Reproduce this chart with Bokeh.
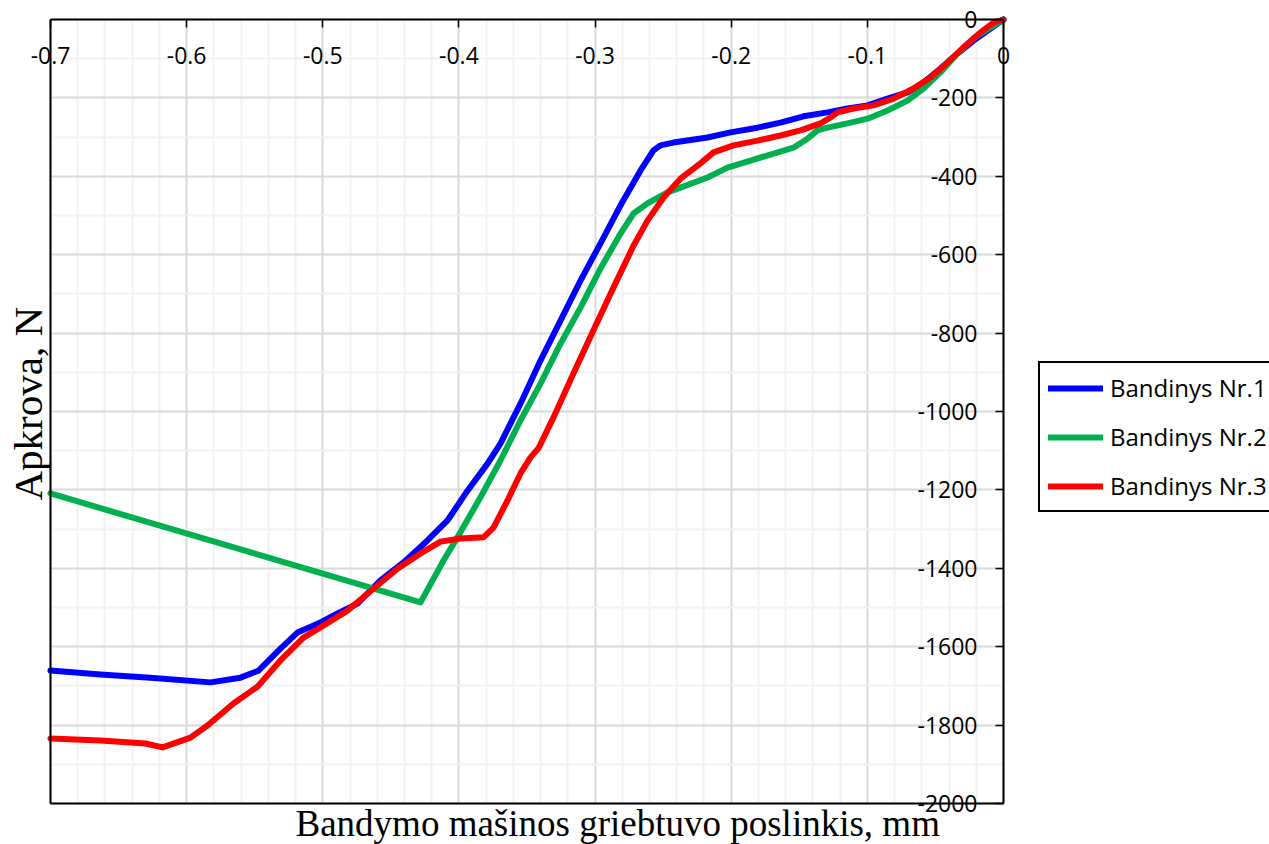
from bokeh.plotting import figure
from bokeh.models import (Range1d, LinearAxis, FixedTicker, Grid, Legend,
                          LegendItem, Label)
from bokeh.embed import file_html
from bokeh.resources import INLINE
import math

# ---- data ----
x_nr1 = [-0.700, -0.6633, -0.6266, -0.5825, -0.5605, -0.5472, -0.5311, -0.5186,
         -0.5017, -0.4892, -0.4745, -0.4576, -0.4407, -0.4231, -0.4084, -0.3937,
         -0.3790, -0.3695, -0.3548, -0.3401, -0.3254, -0.3107, -0.2960, -0.2813,
         -0.2666, -0.2571, -0.2520, -0.2424, -0.2174, -0.2005, -0.1807, -0.1638,
         -0.1469, -0.1293, -0.1146, -0.0999, -0.0852, -0.0705, -0.0588, -0.0463,
         -0.0338, -0.0220, -0.0095, 0.0]
y_nr1 = [-1661, -1671, -1679, -1691, -1679, -1661, -1605, -1564,
         -1538, -1515, -1490, -1431, -1385, -1329, -1278, -1202,
         -1133, -1082, -980, -870, -768, -666, -571, -474,
         -385, -334, -321, -314, -301, -288, -276, -263,
         -247, -237, -227, -219, -202, -186, -161, -125,
         -87, -54, -23, 0]

x_nr2 = [-0.700, -0.4282, -0.4113, -0.4011, -0.3842, -0.3695, -0.3548, -0.3401,
         -0.3254, -0.3107, -0.2960, -0.2813, -0.2718, -0.2615, -0.2468, -0.2373,
         -0.2174, -0.2027, -0.1858, -0.1689, -0.1543, -0.1440, -0.1366, -0.1293,
         -0.1146, -0.0999, -0.0852, -0.0705, -0.0588, -0.0463, -0.0338, -0.0220,
         -0.0095, 0.0]
y_nr2 = [-1209, -1487, -1380, -1321, -1219, -1125, -1023, -929,
         -827, -735, -635, -546, -495, -469, -441, -429,
         -403, -378, -360, -342, -327, -304, -283, -276,
         -265, -253, -232, -207, -176, -135, -87, -48,
         -20, 0]

x_nr3 = [-0.700, -0.6633, -0.6302, -0.6177, -0.5972, -0.5847, -0.5656, -0.5480,
         -0.5311, -0.5142, -0.5017, -0.4819, -0.4628, -0.4451, -0.4282, -0.4135,
         -0.3988, -0.3820, -0.3746, -0.3643, -0.3548, -0.3474, -0.3416, -0.3305,
         -0.3159, -0.3012, -0.2865, -0.2718, -0.2615, -0.2497, -0.2373, -0.2226,
         -0.2130, -0.1983, -0.1807, -0.1638, -0.1491, -0.1344, -0.1271, -0.1219,
         -0.1102, -0.0955, -0.0808, -0.0661, -0.0536, -0.0411, -0.0294, -0.0169,
         -0.0073, 0.0]
y_nr3 = [-1834, -1839, -1847, -1857, -1832, -1801, -1745, -1702,
         -1635, -1577, -1551, -1508, -1452, -1401, -1362, -1332,
         -1324, -1321, -1296, -1227, -1158, -1117, -1094, -1015,
         -903, -793, -684, -577, -513, -454, -406, -367,
         -339, -321, -309, -296, -283, -265, -250, -237,
         -227, -219, -202, -176, -148, -110, -71, -33,
         -8, 0]

series_names = ["Bandinys Nr.1", "Bandinys Nr.2", "Bandinys Nr.3"]
series_colors = ["#0000FF", "#00B050", "#FF0000"]

x_ticks = [-0.7, -0.6, -0.5, -0.4, -0.3, -0.2, -0.1, 0.0]
x_tick_labels = ["-0.7", "-0.6", "-0.5", "-0.4", "-0.3", "-0.2", "-0.1", "0"]
x_minor = [round(-0.7 + 0.02 * i, 2) for i in range(36) if i % 5 != 0]
y_ticks = [0, -200, -400, -600, -800, -1000, -1200, -1400, -1600, -1800, -2000]
y_tick_labels = ["0", "-200", "-400", "-600", "-800", "-1000", "-1200", "-1400",
                 "-1600", "-1800", "-2000"]
y_minor = [-100, -300, -500, -700, -900, -1100, -1300, -1500, -1700, -1900]

x_title = "Bandymo mašinos griebtuvo poslinkis, mm"
y_title = "Apkrova, N"

# ---- layout: the frame covers the whole canvas; plot box placed inside ----
W, H = 1269, 844
BOX_L, BOX_R, BOX_T, BOX_B = 50, 1003, 19, 803
X0, X1 = -0.7, 0.0
Y0, Y1 = -2000.0, 0.0
sx = (BOX_R - BOX_L) / (X1 - X0)
sy = (BOX_B - BOX_T) / (Y1 - Y0)
x_range = Range1d(X0 - BOX_L / sx, X1 + (W - BOX_R) / sx)
y_range = Range1d(Y0 - (H - BOX_B) / sy, Y1 + BOX_T / sy)

def px_to_x(px):
    return X0 + (px - BOX_L) / sx

def py_to_y(py):
    return Y1 - (py - BOX_T) / sy

p = figure(width=W, height=H, x_range=x_range, y_range=y_range,
           x_axis_location=None, y_axis_location=None,
           output_backend="svg", toolbar_location=None,
           min_border=0, min_border_left=0, min_border_right=0,
           min_border_top=0, min_border_bottom=0)
p.center = []  # drop the default grids
p.outline_line_color = None
p.background_fill_color = "white"
p.border_fill_color = "white"

gx = Grid(dimension=0, ticker=FixedTicker(ticks=x_ticks, minor_ticks=x_minor),
          bounds=(X0, X1), cross_bounds=(Y0, Y1),
          grid_line_color="#d9d9d9", grid_line_width=2,
          minor_grid_line_color="#f2f2f2", minor_grid_line_width=2)
gy = Grid(dimension=1, ticker=FixedTicker(ticks=y_ticks, minor_ticks=y_minor),
          bounds=(Y0, Y1), cross_bounds=(X0, X1),
          grid_line_color="#d9d9d9", grid_line_width=2,
          minor_grid_line_color="#f2f2f2", minor_grid_line_width=2)
p.add_layout(gx, "center")
p.add_layout(gy, "center")

renderers = []
for xs, ys, c in zip([x_nr1, x_nr2, x_nr3], [y_nr1, y_nr2, y_nr3], series_colors):
    r = p.line(xs, ys, line_color=c, line_width=6, line_join="round", line_cap="round")
    renderers.append(r)

def style_axis(ax):
    ax.major_tick_in = 0
    ax.major_tick_out = 8
    ax.minor_tick_in = 0
    ax.minor_tick_out = 0
    ax.axis_line_color = "black"
    ax.axis_line_width = 2
    ax.major_tick_line_color = "black"
    ax.major_tick_line_width = 1.5
    ax.major_label_text_font = "Open Sans"
    ax.major_label_text_font_size = "23px"
    ax.major_label_text_color = "black"

# box lines (left and bottom)
bl = LinearAxis(fixed_location=X0, bounds=(Y0, Y1), ticker=FixedTicker(ticks=[]))
style_axis(bl)
p.add_layout(bl, "left")
bb = LinearAxis(fixed_location=Y0, bounds=(X0, X1), ticker=FixedTicker(ticks=[]))
style_axis(bb)
p.add_layout(bb, "below")

# x axis crossing at y = 0 (top of box)
xa = LinearAxis(fixed_location=0, bounds=(X0, X1), ticker=FixedTicker(ticks=x_ticks),
                major_label_overrides=dict(zip(x_ticks, x_tick_labels)))
style_axis(xa)
xa.major_label_standoff = 19
p.add_layout(xa, "below")

# y axis crossing at x = 0 (right of box)
ya = LinearAxis(fixed_location=0, bounds=(Y0, Y1), ticker=FixedTicker(ticks=y_ticks),
                major_label_overrides=dict(zip(y_ticks, y_tick_labels)))
style_axis(ya)
ya.major_label_standoff = 18
p.add_layout(ya, "left")

# axis titles
p.add_layout(Label(x=px_to_x(295), y=py_to_y(823), text=x_title,
                   text_font="Liberation Serif", text_font_size="37px",
                   text_color="black", text_align="left", text_baseline="alphabetic"))
p.add_layout(Label(x=px_to_x(27), y=py_to_y(500), text=y_title, angle=math.pi / 2,
                   text_font="Liberation Serif", text_font_size="41px",
                   text_color="black", text_align="left", text_baseline="alphabetic"))

legend = Legend(items=[LegendItem(label=n, renderers=[r]) for n, r in zip(series_names, renderers)],
                location=(1038, H - 512))
legend.border_line_color = "black"
legend.border_line_width = 2
legend.border_line_alpha = 1
legend.background_fill_color = "white"
legend.background_fill_alpha = 1
legend.padding = 8
legend.spacing = 16
legend.margin = 0
legend.glyph_width = 55
legend.glyph_height = 30
legend.label_standoff = 7
legend.label_text_font = "Open Sans"
legend.label_text_font_size = "24px"
legend.label_text_color = "black"
p.add_layout(legend, "center")

open("out.html", "w").write(file_html(p, INLINE))
